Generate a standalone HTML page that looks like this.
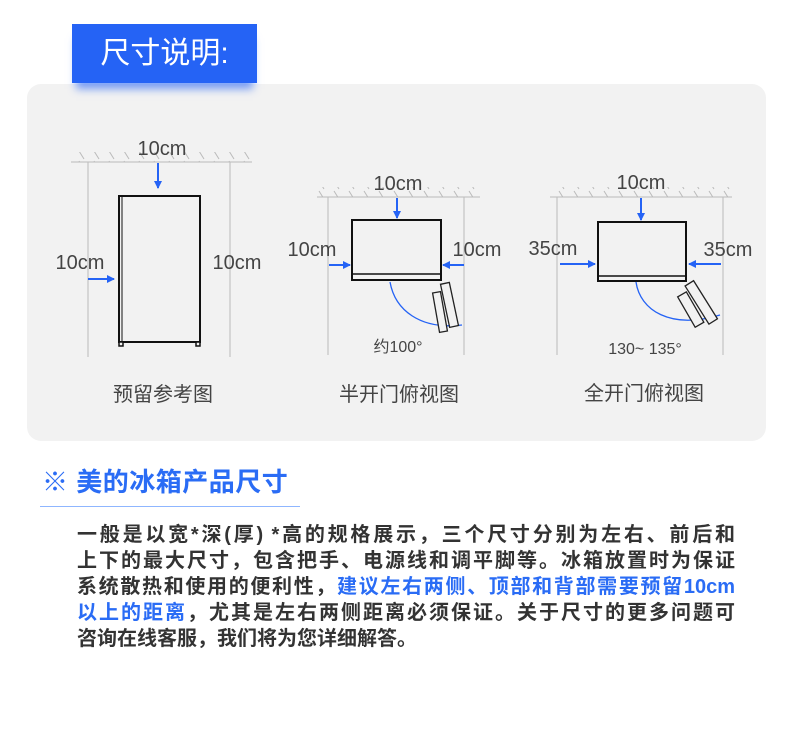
<!DOCTYPE html>
<html><head><meta charset="utf-8"><style>
body{margin:0;width:790px;height:735px;background:#fff;position:relative;overflow:hidden;font-family:"Liberation Sans","Noto Sans CJK SC",sans-serif}
.panel{position:absolute;left:27px;top:84px;width:739px;height:357px;background:#f2f2f2;border-radius:14px}
.title{position:absolute;left:72px;top:24px;width:185px;height:59px;background:#2563f5;color:#fff;font-size:30px;line-height:59px;text-align:center;box-shadow:0 10px 8px -4px rgba(37,99,245,0.6)}
svg{position:absolute;left:0;top:0}
.h{position:absolute;left:42px;top:465px;font-size:26px;color:#2a6cf5;line-height:34px;font-weight:bold;letter-spacing:0.5px}
.ul{position:absolute;left:40px;top:506px;width:260px;height:1px;background:#8fb6ff}
.p{position:absolute;left:77px;top:522px;width:658px;font-size:20px;line-height:26px;color:#333;font-weight:bold}
.p div{white-space:nowrap;text-align:justify;text-align-last:justify;text-justify:inter-character;height:26px}
.p div.l{text-align-last:left}
.b{color:#2a6cf5}
</style></head><body>
<div class="panel"></div>
<div class="title">尺寸说明:</div>
<svg width="790" height="735" font-family="Liberation Sans, Noto Sans CJK SC, sans-serif">
<defs><marker id="a" markerWidth="8" markerHeight="8" refX="7" refY="4" orient="auto" markerUnits="userSpaceOnUse"><path d="M0,0L8,4L0,8z" fill="#2563f5"/></marker>
<pattern id="hp" width="15" height="10" patternUnits="userSpaceOnUse"><line x1="4" y1="1" x2="9" y2="9" stroke="#bbb" stroke-width="1"/></pattern></defs>
<g stroke="#bbb" stroke-width="1" fill="none">
<rect x="71" y="152" width="181" height="10" fill="url(#hp)" stroke="none"/>
<line x1="71" y1="162" x2="252" y2="162"/><line x1="88" y1="162" x2="88" y2="357"/><line x1="230" y1="162" x2="230" y2="357"/>
<rect x="317" y="187" width="163" height="10" fill="url(#hp)" stroke="none"/>
<line x1="317" y1="197" x2="480" y2="197"/><line x1="328" y1="197" x2="328" y2="355"/><line x1="464" y1="197" x2="464" y2="355"/>
<rect x="550" y="187" width="182" height="10" fill="url(#hp)" stroke="none"/>
<line x1="550" y1="197" x2="732" y2="197"/><line x1="557" y1="197" x2="557" y2="355"/><line x1="723" y1="197" x2="723" y2="355"/>
</g>
<g stroke="#111" fill="#f2f2f2" stroke-width="2">
<rect x="119" y="196" width="81" height="146"/><line x1="122" y1="197" x2="122" y2="341" stroke-width="1"/>
<rect x="119" y="342" width="4" height="4" stroke-width="1.5"/><rect x="196" y="342" width="4" height="4" stroke-width="1.5"/>
<rect x="352" y="220" width="89" height="60"/><line x1="352" y1="274" x2="441" y2="274" stroke-width="1.5"/>
<rect x="598" y="222" width="88" height="59"/><line x1="598" y1="276" x2="686" y2="276" stroke-width="1.5"/>
</g>
<g stroke="#2563f5" stroke-width="2" marker-end="url(#a)">
<line x1="158" y1="163" x2="158" y2="188"/><line x1="88" y1="279" x2="114" y2="279"/>
<line x1="397" y1="198" x2="397" y2="218"/><line x1="329" y1="265" x2="350" y2="265"/><line x1="464" y1="265" x2="443" y2="265"/>
<line x1="641" y1="198" x2="641" y2="220"/><line x1="560" y1="264" x2="595" y2="264"/><line x1="721" y1="264" x2="689" y2="264"/>
</g>
<g stroke="#2563f5" stroke-width="1.3" fill="none">
<path d="M390,282 C395,310 420,330 462,325"/>
<path d="M636,282 C640,310 670,330 720,315"/>
</g>
<g stroke="#222" stroke-width="1.3" fill="#f2f2f2">
<rect x="436" y="292" width="8" height="40" transform="rotate(-10 440 312)"/>
<rect x="445" y="283" width="9" height="44" transform="rotate(-12 449 305)"/>
<rect x="686" y="292" width="10" height="35" transform="rotate(-30 691 310)"/>
<rect x="696" y="280" width="10" height="45" transform="rotate(-32 701 302)"/>
</g>
<g fill="#444" font-size="20" text-anchor="middle">
<text x="162" y="155">10cm</text><text x="80" y="269">10cm</text><text x="237" y="269">10cm</text>
<text x="398" y="190">10cm</text><text x="312" y="256">10cm</text><text x="477" y="256">10cm</text>
<text x="641" y="189">10cm</text><text x="553" y="255">35cm</text><text x="728" y="256">35cm</text>
<text x="398" y="352" font-size="16">约100°</text><text x="645" y="354" font-size="16">130~ 135°</text>
<text x="163" y="401">预留参考图</text><text x="399" y="401">半开门俯视图</text><text x="644" y="400">全开门俯视图</text>
</g>
</svg>
<div class="h">※ 美的冰箱产品尺寸</div>
<div class="ul"></div>
<div class="p">
<div>一般是以宽*深(厚) *高的规格展示，三个尺寸分别为左右、前后和</div>
<div>上下的最大尺寸，包含把手、电源线和调平脚等。冰箱放置时为保证</div>
<div>系统散热和使用的便利性，<span class="b">建议左右两侧、顶部和背部需要预留10cm</span></div>
<div><span class="b">以上的距离</span>，尤其是左右两侧距离必须保证。关于尺寸的更多问题可</div>
<div class="l">咨询在线客服，我们将为您详细解答。</div>
</div>
</body></html>
